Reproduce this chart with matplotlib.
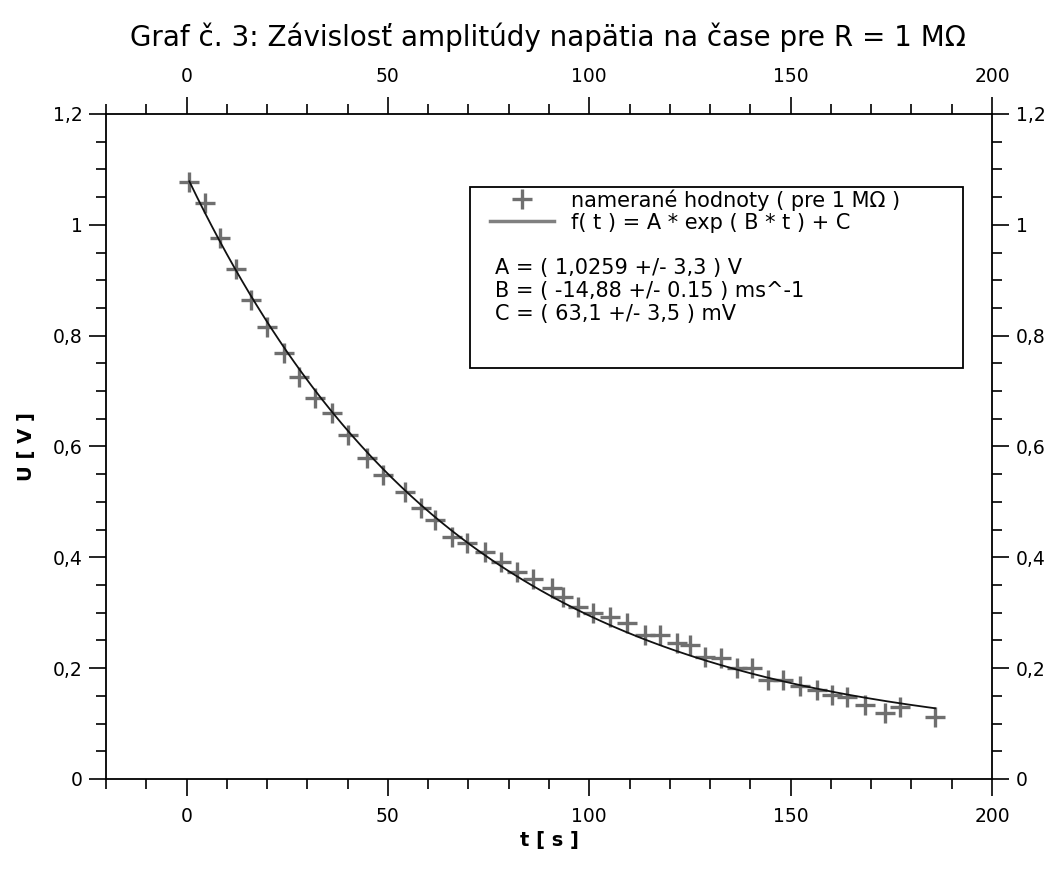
import matplotlib
matplotlib.use("Agg")
import matplotlib.pyplot as plt
import numpy as np
from matplotlib.ticker import MultipleLocator, FuncFormatter
from matplotlib.lines import Line2D
from matplotlib.patches import Rectangle

# measured points (t in s, U in V)
t = [0.7, 4.5, 8.4, 12.2, 16.1, 20.1, 24.1, 28.0, 32.0, 36.2,
     40.0, 44.9, 48.9, 54.3, 58.1, 61.8, 66.0, 69.7, 74.2, 78.2,
     82.0, 86.0, 90.8, 93.5, 97.3, 101.0, 105.2, 109.4, 113.9, 117.6,
     121.8, 125.1, 128.8, 132.7, 136.7, 140.4, 144.4, 148.1, 152.4, 156.6,
     160.3, 164.0, 168.5, 173.4, 177.2, 185.9]
u = [1.078, 1.040, 0.977, 0.921, 0.865, 0.816, 0.769, 0.726, 0.688, 0.661,
     0.621, 0.579, 0.549, 0.518, 0.489, 0.468, 0.437, 0.426, 0.410, 0.392,
     0.373, 0.360, 0.345, 0.329, 0.310, 0.300, 0.292, 0.282, 0.260, 0.260,
     0.245, 0.242, 0.220, 0.218, 0.200, 0.200, 0.179, 0.179, 0.168, 0.161,
     0.152, 0.148, 0.134, 0.119, 0.130, 0.112]

# fit parameters shown in the box
A, B, C = 1.0259, -0.01488, 0.0631

title = "Graf č. 3: Závislosť amplitúdy napätia na čase pre R = 1 MΩ"
leg_labels = ["namerané hodnoty ( pre 1 MΩ )", "f( t ) = A * exp ( B * t ) + C"]
params = ["A = ( 1,0259 +/- 3,3 ) V",
          "B = ( -14,88 +/- 0.15 ) ms^-1",
          "C = ( 63,1 +/- 3,5 ) mV"]

plt.rcParams['font.family'] = ['DejaVu Sans']

fig = plt.figure(figsize=(10.59, 8.74), dpi=100)
ax = fig.add_axes([0.1001, 0.1087, 0.8366, 0.7609])

tt = np.linspace(min(t), max(t), 300)
ax.plot(t, u, ls='none', marker='+', ms=14, mew=2.4, color='#6f6f6f')
ax.plot(tt, A * np.exp(B * tt) + C, color='#111111', lw=1.3)

ax.set_xlim(-20, 200)
ax.set_ylim(0, 1.2)
ax.xaxis.set_major_locator(MultipleLocator(50))
ax.xaxis.set_minor_locator(MultipleLocator(10))
ax.yaxis.set_major_locator(MultipleLocator(0.2))
ax.yaxis.set_minor_locator(MultipleLocator(0.05))
ax.yaxis.set_major_formatter(FuncFormatter(lambda v, _: ('%g' % round(v, 2)).replace('.', ',')))

ax.tick_params(which='both', direction='out', top=True, right=True,
               labeltop=True, labelright=True, width=1.2, labelsize=13.5, colors='black')
ax.tick_params(which='major', length=12, pad=5)
ax.tick_params(axis='x', which='major', pad=8)
ax.tick_params(which='minor', length=7)
for s in ax.spines.values():
    s.set_linewidth(1.3)

ax.set_xlabel("t [ s ]", fontsize=14, fontweight='bold', labelpad=4)
ax.set_ylabel("U [ V ]", fontsize=14, fontweight='bold', labelpad=12)
fig.text(0.517, 0.957, title, ha='center', va='center', fontsize=20)

handles = [Line2D([], [], ls='none', marker='+', ms=14, mew=2.4, color='#6f6f6f'),
           Line2D([], [], color='#808080', lw=2.5)]
ax.legend(handles, leg_labels, loc='upper left', bbox_to_anchor=(0.433, 0.887),
          frameon=False, fontsize=15, handlelength=3.1, handletextpad=0.8,
          borderaxespad=0, borderpad=0, labelspacing=0.1)
ax.add_patch(Rectangle((0.411, 0.618), 0.556, 0.272, transform=ax.transAxes,
                       fill=False, lw=1.3, ec='black', zorder=5))
ax.text(0.439, 0.784, "\n".join(params), transform=ax.transAxes,
        ha='left', va='top', fontsize=15, linespacing=1.2)

fig.savefig("out.png", dpi=100)
